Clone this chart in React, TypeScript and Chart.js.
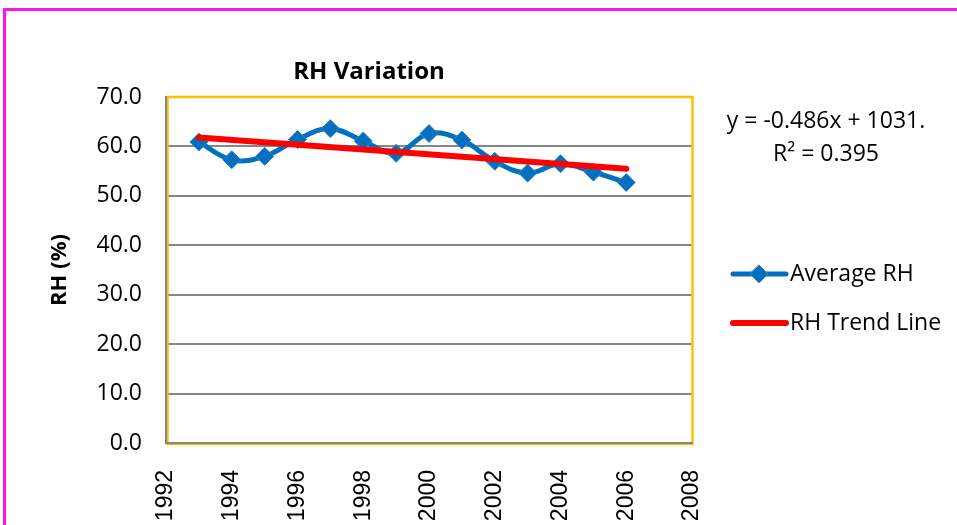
import React, { useEffect, useRef } from "react";
import { Chart, registerables } from "chart.js";

Chart.register(...registerables);

const years = [1993, 1994, 1995, 1996, 1997, 1998, 1999, 2000, 2001, 2002, 2003, 2004, 2005, 2006];
const averageRH = [60.9, 57.3, 58.0, 61.4, 63.6, 61.1, 58.6, 62.6, 61.3, 57.0, 54.6, 56.5, 54.8, 52.7];
const trendYears = [1993, 2006];
const trendRH = [61.8, 55.5];
const seriesLabels = ["Average RH", "RH Trend Line"];
const chartTitle = "RH Variation";
const yAxisTitle = "RH (%)";
const equationLines = ["y = -0.486x + 1031.", "R\u00B2 = 0.395"];
const xMin = 1992, xMax = 2008, xStep = 2;
const yMin = 0, yMax = 70, yStep = 10;

const BLUE = "#0070C0";
const RED = "#FF0000";
const BODY_FONT = "'Open Sans', 'DejaVu Sans', sans-serif";

const decorPlugin = {
  id: "decor",
  beforeDraw(chart: any) {
    const ctx = chart.ctx;
    ctx.save();
    ctx.fillStyle = "#ffffff";
    ctx.fillRect(0, 0, chart.width, chart.height);
    ctx.fillStyle = "#FF10E8";
    ctx.fillRect(3, 8, chart.width, 3);
    ctx.fillRect(3, 8, 3, chart.height);
    ctx.restore();
  },
  beforeDatasetsDraw(chart: any) {
    const { ctx, chartArea } = chart;
    const { left, right, top, bottom } = chartArea;
    ctx.save();
    ctx.strokeStyle = "#FFC000";
    ctx.lineWidth = 2.5;
    ctx.strokeRect(left + 1.5, top, right - left - 1, bottom - top + 1);
    ctx.strokeStyle = "#868686";
    ctx.lineWidth = 2;
    ctx.beginPath();
    ctx.moveTo(left, top - 1);
    ctx.lineTo(left, bottom);
    ctx.lineTo(right + 1, bottom);
    ctx.stroke();
    ctx.restore();
  },
  afterDraw(chart: any) {
    const ctx = chart.ctx;
    ctx.save();
    ctx.fillStyle = "#000000";
    ctx.font = `bold 24px ${BODY_FONT}`;
    ctx.textAlign = "center";
    ctx.textBaseline = "middle";
    ctx.fillText(chartTitle, 369, 72);
    ctx.font = `23px ${BODY_FONT}`;
    ctx.fillText(equationLines[0], 826, 121);
    ctx.fillText(equationLines[1], 826, 154);
    const items = chart.data.datasets;
    const rows = [274, 323];
    items.forEach((ds: any, i: number) => {
      const y = rows[i];
      ctx.strokeStyle = ds.borderColor;
      ctx.lineWidth = ds.borderWidth;
      ctx.lineCap = "round";
      ctx.beginPath();
      ctx.moveTo(733, y);
      ctx.lineTo(786, y);
      ctx.stroke();
      if (ds.pointRadius > 0) {
        const r = ds.pointRadius;
        const cx = 759;
        ctx.fillStyle = ds.pointBackgroundColor;
        ctx.strokeStyle = ds.pointBorderColor;
        ctx.lineWidth = ds.pointBorderWidth;
        ctx.beginPath();
        ctx.moveTo(cx, y - r);
        ctx.lineTo(cx + r, y);
        ctx.lineTo(cx, y + r);
        ctx.lineTo(cx - r, y);
        ctx.closePath();
        ctx.fill();
        ctx.stroke();
      }
      ctx.fillStyle = "#000000";
      ctx.font = `23px ${BODY_FONT}`;
      ctx.textAlign = "left";
      ctx.textBaseline = "middle";
      ctx.fillText(ds.label, 790, y);
    });
    ctx.restore();
  },
};

export default function App() {
  const canvasRef = useRef<HTMLCanvasElement | null>(null);

  useEffect(() => {
    if (!canvasRef.current) return;
    const chart = new Chart(canvasRef.current, {
      type: "line",
      data: {
        datasets: [
          {
            label: seriesLabels[0],
            data: years.map((yr, i) => ({ x: yr, y: averageRH[i] })),
            borderColor: BLUE,
            backgroundColor: BLUE,
            borderWidth: 5,
            tension: 0.4,
            pointStyle: "rectRot",
            pointRadius: 9,
            pointBackgroundColor: BLUE,
            pointBorderColor: "#4A7EBB",
            pointBorderWidth: 1,
            order: 2,
          },
          {
            label: seriesLabels[1],
            data: trendYears.map((yr, i) => ({ x: yr, y: trendRH[i] })),
            borderColor: RED,
            backgroundColor: RED,
            borderWidth: 6,
            borderCapStyle: "round",
            tension: 0,
            pointRadius: 0,
            pointBackgroundColor: RED,
            pointBorderColor: RED,
            pointBorderWidth: 0,
            order: 1,
          },
        ],
      } as any,
      options: {
        animation: false,
        responsive: false,
        maintainAspectRatio: false,
        layout: { padding: { left: 0, top: 97, right: 265, bottom: 0 } },
        plugins: {
          legend: { display: false },
          title: { display: false },
          tooltip: { enabled: false },
        },
        scales: {
          x: {
            type: "linear",
            min: xMin,
            max: xMax,
            ticks: {
              stepSize: xStep,
              minRotation: 90,
              maxRotation: 90,
              padding: 27,
              color: "#000000",
              font: { family: "'Liberation Sans', Arial, sans-serif", size: 23 },
              callback: (v: any) => String(v),
            },
            grid: { display: false, drawTicks: false },
            border: { display: false },
            afterFit: (scale: any) => {
              scale.height = 82;
            },
          },
          y: {
            min: yMin,
            max: yMax,
            ticks: {
              stepSize: yStep,
              padding: 24,
              color: "#000000",
              font: { family: BODY_FONT, size: 23 },
              callback: (v: any) => Number(v).toFixed(1),
            },
            grid: { color: "#868686", lineWidth: 2, drawTicks: false },
            border: { display: false },
            title: {
              display: true,
              text: yAxisTitle,
              color: "#000000",
              font: { family: BODY_FONT, size: 22, weight: "bold" },
              padding: { top: 47, bottom: 0 },
            },
            afterFit: (scale: any) => {
              scale.width = 166;
            },
          },
        },
      } as any,
      plugins: [decorPlugin],
    });
    return () => chart.destroy();
  }, []);

  return (
    <div style={{ position: "absolute", left: 0, top: 0, width: 957, height: 525 }}>
      <canvas ref={canvasRef} width={957} height={525} style={{ width: 957, height: 525, display: "block" }} />
    </div>
  );
}
